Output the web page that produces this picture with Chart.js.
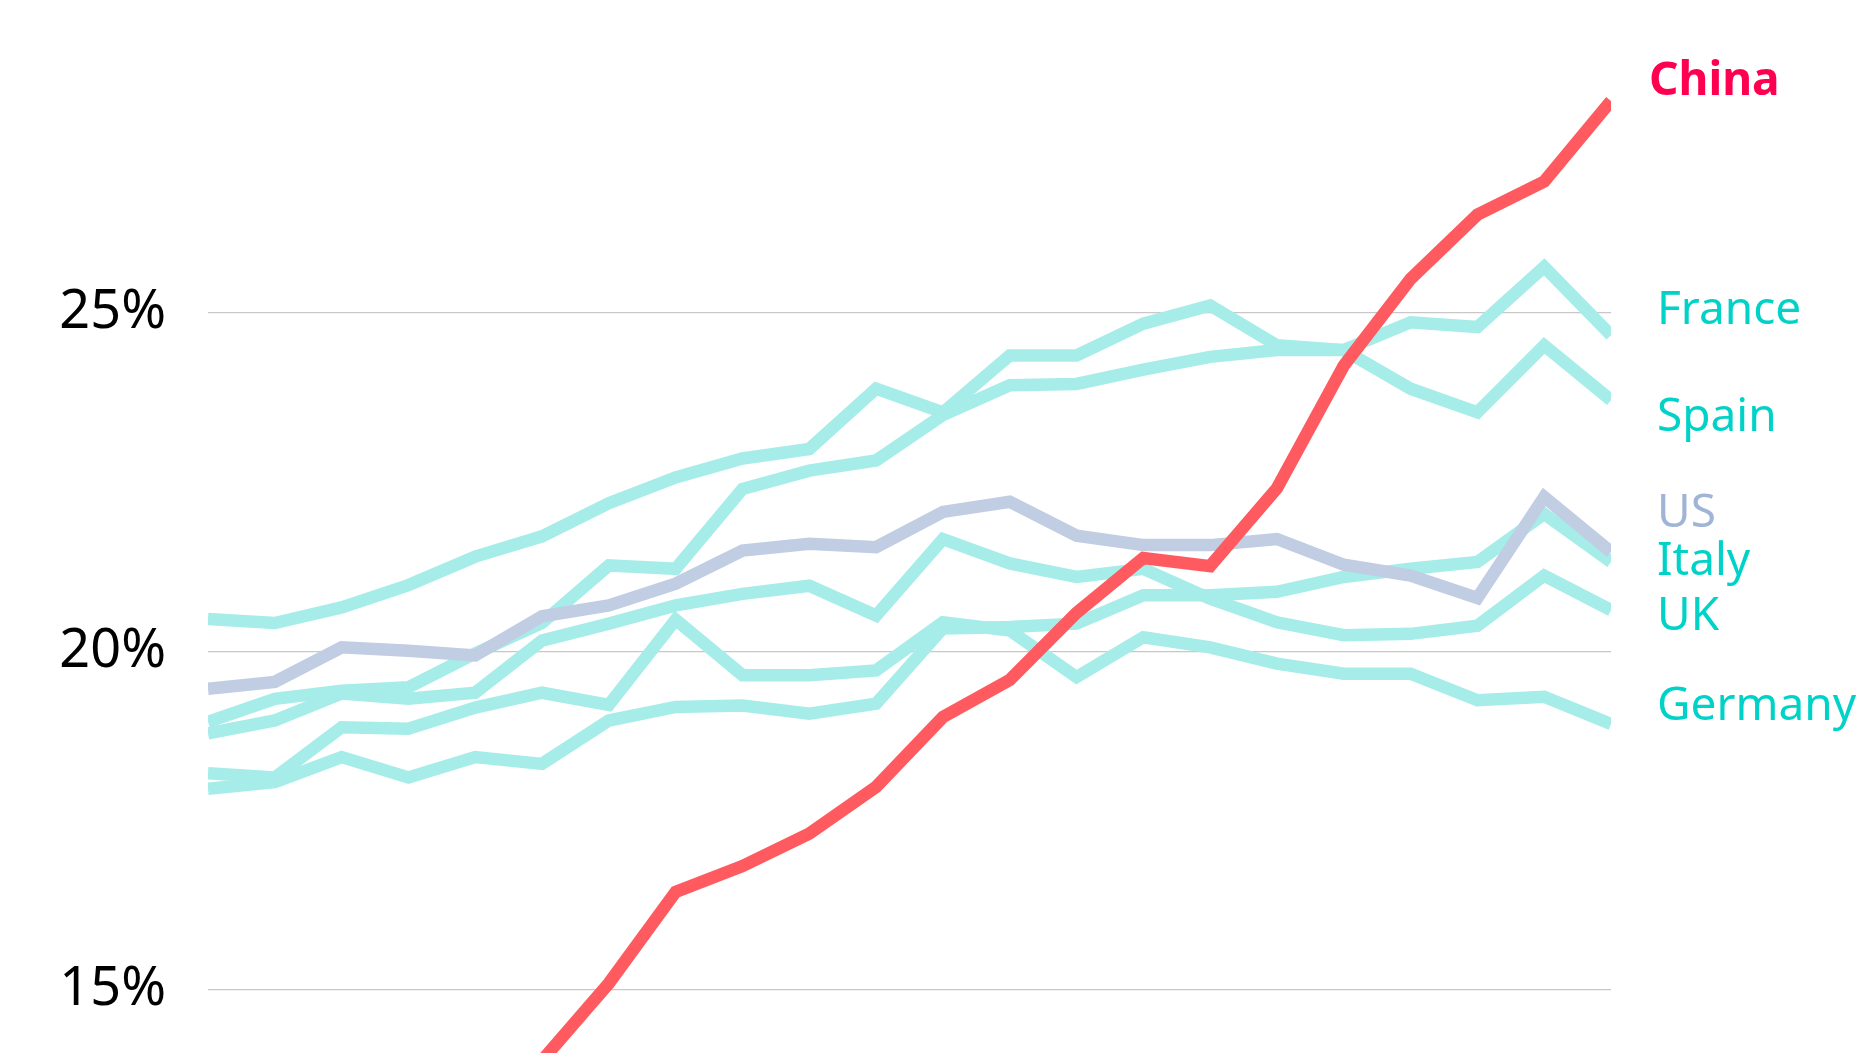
<!DOCTYPE html>
<html lang="en">
<head>
<meta charset="utf-8">
<title>Share by country</title>
<script src="https://cdn.jsdelivr.net/npm/chart.js@4.4.1/dist/chart.umd.min.js"></script>
<style>
    html, body { margin: 0; padding: 0; background: #fff; overflow: hidden; }
    #shareChart { display: block; }
</style>
</head>
<body>
<canvas id="shareChart" width="1874" height="1053"></canvas>
<script>
/* data (% values) */
const years = ['1996', '1997', '1998', '1999', '2000', '2001', '2002', '2003', '2004', '2005', '2006',
               '2007', '2008', '2009', '2010', '2011', '2012', '2013', '2014', '2015', '2016', '2017'];
const yTicks = [15, 20, 25];

const china   = [null, null, null, null, null, 13.96, 15.1, 16.45, 16.83, 17.31, 18.0, 19.03, 19.58, 20.57, 21.38, 21.26, 22.41, 24.22, 25.5, 26.45, 26.94, 28.13];
const us      = [19.45, 19.55, 20.06, 20.01, 19.94, 20.52, 20.68, 21.0, 21.49, 21.59, 21.54, 22.06, 22.21, 21.71, 21.57, 21.57, 21.66, 21.28, 21.12, 20.79, 22.28, 21.47];
const france  = [18.96, 19.3, 19.42, 19.47, 19.97, 20.42, 21.27, 21.22, 22.4, 22.67, 22.82, 23.49, 23.93, 23.95, 24.16, 24.35, 24.45, 24.45, 24.86, 24.79, 25.68, 24.67];
const spain   = [20.48, 20.42, 20.65, 20.98, 21.4, 21.7, 22.19, 22.57, 22.85, 22.99, 23.88, 23.53, 24.37, 24.37, 24.84, 25.11, 24.52, 24.45, 23.88, 23.53, 24.52, 23.71];
const italy   = [17.97, 18.07, 18.44, 18.14, 18.44, 18.34, 18.98, 19.18, 19.2, 19.08, 19.23, 20.34, 20.36, 20.41, 20.83, 20.83, 20.88, 21.1, 21.22, 21.32, 22.03, 21.32];
const uk      = [18.79, 18.98, 19.38, 19.3, 19.39, 20.16, 20.41, 20.68, 20.85, 20.97, 20.53, 21.66, 21.3, 21.1, 21.22, 20.78, 20.43, 20.24, 20.26, 20.38, 21.12, 20.61];
const germany = [18.2, 18.14, 18.88, 18.86, 19.17, 19.39, 19.21, 20.47, 19.65, 19.65, 19.72, 20.43, 20.31, 19.62, 20.21, 20.06, 19.82, 19.67, 19.67, 19.28, 19.33, 18.93];

// where the country names sit, in axis units
const labelAt = { China: 28.45, France: 25.07, Spain: 23.49, US: 22.08, Italy: 21.37, UK: 20.55, Germany: 19.22 };

const COLORS = {
    china: '#ff5a5f', chinaText: '#ff0050',
    us: '#c0cde3', usText: '#a0b5d6',
    cyan: '#a6ede9', cyanText: '#00d2c8'
};

class ShareChart {
    constructor(canvasId) {
        this.canvas = document.getElementById(canvasId);
        this.chart = null;
    }

    // line dataset
    makeSet(label, data, color, textColor, bold) {
        return {
            label: label,
            data: data,
            borderColor: color,
            borderWidth: 12.5,
            pointRadius: 0,
            pointHoverRadius: 0,
            tension: 0,
            clip: 0,
            fill: false,
            labelColor: textColor,
            labelBold: !!bold
        };
    }

    // country names on the right
    labelPlugin() {
        return {
            id: 'endLabels',
            afterDatasetsDraw(chart) {
                const { ctx, chartArea, scales: { y } } = chart;
                ctx.save();
                ctx.textAlign = 'left';
                ctx.textBaseline = 'alphabetic';
                chart.data.datasets.forEach(ds => {
                    ctx.font = (ds.labelBold ? '700 ' : '400 ') + "46px 'Noto Sans', sans-serif";
                    ctx.fillStyle = ds.labelColor;
                    const x = chartArea.right + (ds.labelBold ? 38 : 46);
                    ctx.fillText(ds.label, x, y.getPixelForValue(labelAt[ds.label]) + 16);
                });
                ctx.restore();
            }
        };
    }

    getOptions() {
        return {
            responsive: false,
            animation: false,
            events: [],
            layout: { padding: { left: 0, right: 263, top: 0, bottom: 0 } },
            plugins: {
                legend: { display: false },
                tooltip: { enabled: false }
            },
            scales: {
                x: { display: false },
                y: {
                    min: 14.07,
                    max: 29.62,
                    border: { display: false },
                    grid: { color: '#c8c8c8', lineWidth: 1.2, drawTicks: false },
                    afterBuildTicks: (scale) => { scale.ticks = yTicks.map(v => ({ value: v })); },
                    // fixed axis width, no extra room above/below for labels
                    afterFit: (scale) => {
                        scale.width = 208;
                        scale.paddingTop = 0;
                        scale.paddingBottom = 0;
                    },
                    ticks: {
                        padding: 42,
                        color: '#000',
                        font: { family: "'Noto Sans', sans-serif", size: 54 },
                        callback: (value) => value + '%'
                    }
                }
            }
        };
    }

    init() {
        // first dataset is painted last (on top)
        this.chart = new Chart(this.canvas.getContext('2d'), {
            type: 'line',
            data: {
                labels: years,
                datasets: [
                    this.makeSet('China', china, COLORS.china, COLORS.chinaText, true),
                    this.makeSet('US', us, COLORS.us, COLORS.usText),
                    this.makeSet('France', france, COLORS.cyan, COLORS.cyanText),
                    this.makeSet('Spain', spain, COLORS.cyan, COLORS.cyanText),
                    this.makeSet('Italy', italy, COLORS.cyan, COLORS.cyanText),
                    this.makeSet('UK', uk, COLORS.cyan, COLORS.cyanText),
                    this.makeSet('Germany', germany, COLORS.cyan, COLORS.cyanText)
                ]
            },
            options: this.getOptions(),
            plugins: [this.labelPlugin()]
        });
    }
}

window.shareChart = new ShareChart('shareChart');
window.shareChart.init();
</script>
</body>
</html>
